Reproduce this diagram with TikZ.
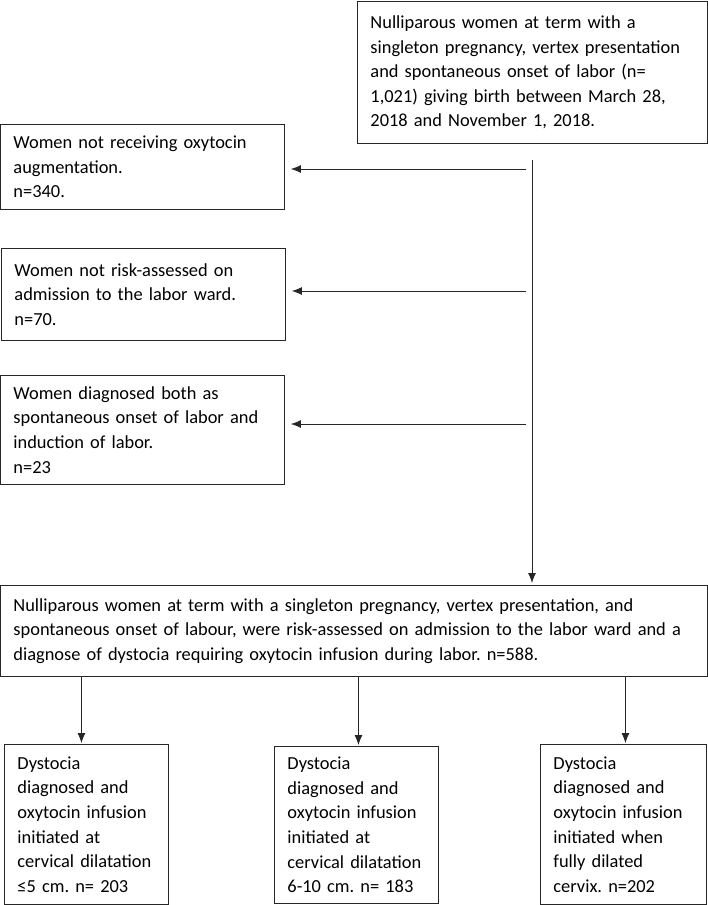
\documentclass[tikz,border=0pt]{standalone}
\usepackage{fontspec}
\setmainfont{Carlito}
\usetikzlibrary{arrows.meta}
\frenchspacing

\begin{document}
\begin{tikzpicture}[x=1pt,y=-1pt]
\useasboundingbox (0,0) rectangle (708,905);
\begin{scope}[every node/.style={rectangle,draw=black!85,line width=0.9pt,anchor=north west,align=left,
              inner xsep=13pt,inner ysep=0pt,font=\fontsize{18.4}{24.6}\selectfont}]
    \node (cohort) at (357,1) [text width=324pt, minimum height=142pt] {Nulliparous women at term with a\\ singleton pregnancy, vertex presentation\\ and spontaneous onset of labor (n=\\ 1,021) giving birth between March 28,\\ 2018 and November 1, 2018.};

    \node (excl1) at (0,124) [text width=258pt, minimum height=85pt] {Women not receiving oxytocin\\ augmentation.\\ n=340.};
    \node (excl2) at (1,248) [text width=258pt, minimum height=92pt] {Women not risk-assessed on\\ admission to the labor ward.\\ n=70.};
    \node (excl3) at (0,375) [text width=258pt, minimum height=109pt] {Women diagnosed both as\\ spontaneous onset of labor and\\ induction of labor.\\ n=23};

    \node (study) at (0,585) [text width=681pt, minimum height=91pt] {Nulliparous women at term with a singleton pregnancy, vertex presentation, and\\ spontaneous onset of labour, were risk-assessed on admission to the labor ward and a\\ diagnose of dystocia requiring oxytocin infusion during labor. n=588.};

    \node (grp1) at (4,744) [text width=138pt, minimum height=160pt] {Dystocia\\ diagnosed and\\ oxytocin infusion\\ initiated at\\ cervical dilatation\\ ≤5 cm. n= 203};
    \node (grp2) at (274,746) [text width=138pt, minimum height=157pt] {Dystocia\\ diagnosed and\\ oxytocin infusion\\ initiated at\\ cervical dilatation\\ 6-10 cm. n= 183};
    \node (grp3) at (540,744) [text width=140pt, minimum height=160pt] {Dystocia\\ diagnosed and\\ oxytocin infusion\\ initiated when\\ fully dilated\\ cervix. n=202};
\end{scope}

\coordinate (trunk) at (532,160);
\coordinate (b1) at (526,169);
\coordinate (b2) at (526,291);
\coordinate (b3) at (526,424);

\begin{scope}[>={Latex[length=10pt,width=8pt]},
              every edge/.style={draw=black!85,line width=0.8pt}]
    \path [->] (trunk) edge [shorten >=2pt] (trunk |- study.north);
    \path [->] (b1) edge [shorten >=6pt] (b1 -| excl1.east);
    \path [->] (b2) edge [shorten >=6pt] (b2 -| excl2.east);
    \path [->] (b3) edge [shorten >=6pt] (b3 -| excl3.east);
    \path [->] ([xshift=-5pt]grp1.north |- study.south) edge [shorten >=1pt] ([xshift=-5pt]grp1.north);
    \path [->] ([xshift=2pt]grp2.north |- study.south) edge [shorten >=1pt] ([xshift=2pt]grp2.north);
    \path [->] ([xshift=2pt]grp3.north |- study.south) edge [shorten >=1pt] ([xshift=2pt]grp3.north);
\end{scope}
\end{tikzpicture}
\end{document}
